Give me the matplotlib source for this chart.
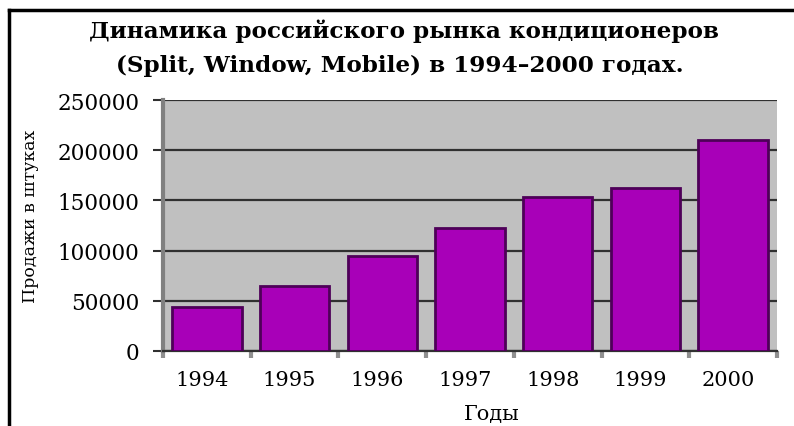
import matplotlib
matplotlib.use("Agg")
import matplotlib.pyplot as plt
from matplotlib.lines import Line2D
from matplotlib.transforms import ScaledTranslation
import numpy as np

years = ["1994", "1995", "1996", "1997", "1998", "1999", "2000"]
sales = [44000, 65000, 95000, 123000, 153000, 162000, 210000]
yticks = [0, 50000, 100000, 150000, 200000, 250000]
title_lines = ["Динамика российского рынка кондиционеров",
               "(Split, Window, Mobile) в 1994–2000 годах."]
xlabel = "Годы"
ylabel = "Продажи в штуках"

plt.rcParams['font.family'] = ['DejaVu Serif', 'Liberation Serif']

W, H = 794, 427
fig = plt.figure(figsize=(W / 100, H / 100), dpi=100)
left, right, top, bottom = 163, 777, 101, 352
ax = fig.add_axes([left / W, 1 - bottom / H, (right - left) / W, (bottom - top) / H])
ax.set_facecolor("#C0C0C0")

x = np.arange(len(years))
ax.bar(x, sales, width=0.79, color="#A800B8", edgecolor="#4E0058", linewidth=2, zorder=3)
ax.set_xlim(-0.5, len(years) - 0.5)
ax.set_ylim(0, 250000)
ax.set_yticks(yticks)
ax.set_yticklabels([str(t) for t in yticks], fontsize=15.5)
ax.yaxis.grid(True, color="#303030", linewidth=1.6, zorder=1)
ax.set_axisbelow(True)
ax.set_xticks(x)
ax.set_xticklabels(years, fontsize=15)
ax.set_xticks(np.arange(-0.5, len(years) + 0.5, 1), minor=True)
ax.tick_params(axis="x", which="major", length=0, pad=14)
ax.tick_params(axis="x", which="minor", length=5, width=3, color="#909090")
ax.tick_params(axis="y", length=7, width=1.5, color="#303030", pad=10)
shift = ScaledTranslation(-5 / 100, 0, fig.dpi_scale_trans)
for lbl in ax.get_xticklabels():
    lbl.set_transform(lbl.get_transform() + shift)
for s in ["top", "right"]:
    ax.spines[s].set_visible(False)
ax.spines["left"].set_color("#808080")
ax.spines["left"].set_linewidth(3)
ax.spines["bottom"].set_color("#303030")
ax.spines["bottom"].set_linewidth(1.6)

fig.text(492 / W, 1 - 415 / H, xlabel, ha="center", va="center", fontsize=15)
fig.text(31 / W, 1 - 216 / H, ylabel, ha="center", va="center", rotation=90, fontsize=12.5)

fig.text(404 / W, 1 - 31 / H, title_lines[0], ha="center", va="center",
         fontsize=16.7, fontweight="bold")
fig.text(400 / W, 1 - 66 / H, title_lines[1], ha="center", va="center",
         fontsize=16.7, fontweight="bold")

fig.add_artist(Line2D([9 / W, 9 / W], [0, 1 - 11 / H], color="black", linewidth=2.5))
fig.add_artist(Line2D([9 / W, 1], [1 - 11 / H, 1 - 11 / H], color="black", linewidth=2.5))

fig.savefig("out.png", dpi=100)
